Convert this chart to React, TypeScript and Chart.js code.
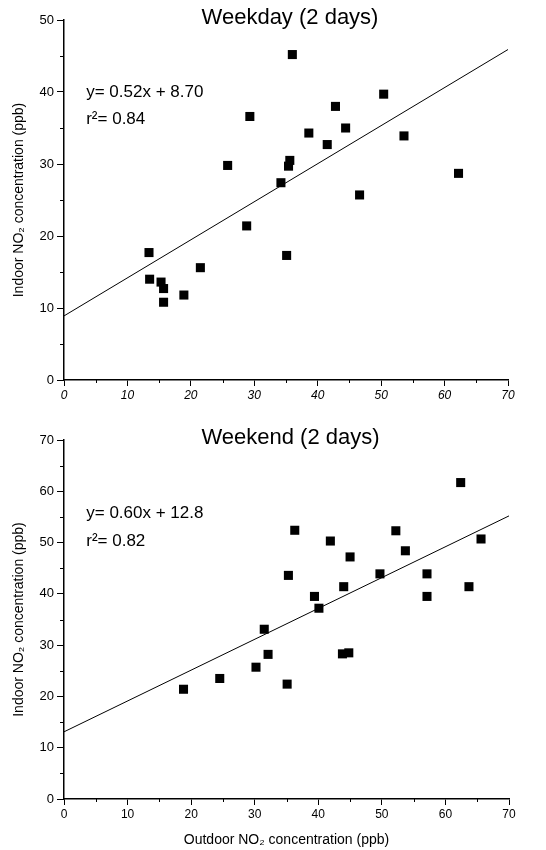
import React, { useEffect, useRef } from "react";
import { Chart, registerables } from "chart.js";

Chart.register(...registerables);

// ---------- Data ----------
const weekdayOutdoor = [36.0, 29.3, 25.8, 50.4, 42.8, 38.6, 44.4, 41.5, 53.6, 35.6, 35.4, 34.2, 46.6, 62.2, 28.8, 13.4, 35.1, 21.5, 13.5, 15.3, 15.7, 18.9, 15.7];
const weekdayIndoor = [45.2, 36.6, 29.8, 39.7, 38.0, 34.3, 35.0, 32.7, 33.9, 30.5, 29.7, 27.4, 25.7, 28.7, 21.4, 17.7, 17.3, 15.6, 14.0, 13.6, 12.7, 11.8, 10.8];
const weekdayFitX = [0, 70];
const weekdayFitY = [8.9, 45.9];
const weekdayEquation = ["y= 0.52x + 8.70", "r\u00B2= 0.84"];

const weekendOutdoor = [62.4, 36.3, 52.2, 41.9, 65.6, 53.7, 45.0, 35.3, 49.7, 57.1, 44.0, 63.7, 39.4, 57.1, 40.1, 31.5, 32.1, 43.8, 44.8, 30.2, 24.5, 35.1, 18.8];
const weekendIndoor = [61.7, 52.4, 52.3, 50.3, 50.7, 48.4, 47.2, 43.6, 43.9, 43.9, 41.4, 41.4, 39.5, 39.5, 37.2, 33.1, 28.2, 28.3, 28.5, 25.7, 23.5, 22.4, 21.4];
const weekendFitX = [0, 70];
const weekendFitY = [13.1, 55.2];
const weekendEquation = ["y= 0.60x + 12.8", "r\u00B2= 0.82"];

const xTickValues = [0, 10, 20, 30, 40, 50, 60, 70];
const weekdayYTicks = [0, 10, 20, 30, 40, 50];
const weekendYTicks = [0, 10, 20, 30, 40, 50, 60, 70];

const FONT = "'Liberation Sans', Arial, sans-serif";

type PanelCfg = {
  title: string;
  xs: number[];
  ys: number[];
  fitX: number[];
  fitY: number[];
  equation: string[];
  eqX: number;
  eqY: number[];
  yMax: number;
  yTicks: number[];
  height: number;
  padTop: number;
  padRight: number;
  xAxisHeight: number;
  italicX: boolean;
  showXTitle: boolean;
};

const minorTicksPlugin = {
  id: "minorTicks",
  afterDraw(chart: any) {
    const ctx = chart.ctx;
    const area = chart.chartArea;
    ctx.save();
    ctx.strokeStyle = "#000";
    ctx.lineWidth = 1;
    const xs = chart.scales.x;
    const ys = chart.scales.y;
    xs.ticks.forEach((t: any) => {
      if (t.value % 10 !== 0) {
        const px = Math.round(xs.getPixelForValue(t.value)) + 0.5;
        ctx.beginPath();
        ctx.moveTo(px, area.bottom);
        ctx.lineTo(px, area.bottom + 3);
        ctx.stroke();
      }
    });
    ys.ticks.forEach((t: any) => {
      if (t.value % 10 !== 0) {
        const py = Math.round(ys.getPixelForValue(t.value)) + 0.5;
        ctx.beginPath();
        ctx.moveTo(area.left - 4, py);
        ctx.lineTo(area.left, py);
        ctx.stroke();
      }
    });
    ctx.restore();
  },
};

const textPlugin = {
  id: "panelText",
  afterDraw(chart: any) {
    const cfg = chart.options.plugins.panelText;
    if (!cfg) return;
    const ctx = chart.ctx;
    const area = chart.chartArea;
    ctx.save();
    ctx.fillStyle = "#000";
    ctx.textBaseline = "middle";
    ctx.textAlign = "center";
    ctx.font = `22px ${FONT}`;
    ctx.fillText(cfg.title, (area.left + area.right) / 2 + 4, area.top - 2);
    ctx.textAlign = "left";
    ctx.font = `17px ${FONT}`;
    const xs = chart.scales.x;
    const ys = chart.scales.y;
    cfg.equation.forEach((line: string, i: number) => {
      ctx.fillText(line, xs.getPixelForValue(cfg.eqX), ys.getPixelForValue(cfg.eqY[i]));
    });
    ctx.restore();
  },
};

function Panel({ cfg }: { cfg: PanelCfg }) {
  const ref = useRef<HTMLCanvasElement | null>(null);
  useEffect(() => {
    if (!ref.current) return;
    const points = cfg.xs.map((x, i) => ({ x, y: cfg.ys[i] }));
    const fit = cfg.fitX.map((x, i) => ({ x, y: cfg.fitY[i] }));
    const chart = new Chart(ref.current, {
      type: "scatter",
      data: {
        datasets: [
          {
            data: fit,
            showLine: true,
            borderColor: "#000",
            borderWidth: 1,
            pointRadius: 0,
            fill: false,
          } as any,
          {
            data: points,
            pointStyle: "rect",
            pointRadius: 6.4,
            pointBackgroundColor: "#000",
            pointBorderWidth: 0,
            borderColor: "#000",
          } as any,
        ],
      },
      options: {
        animation: false,
        responsive: false,
        events: [],
        layout: { padding: { top: cfg.padTop, right: cfg.padRight, left: 0, bottom: 0 } },
        plugins: {
          legend: { display: false },
          title: { display: false },
          tooltip: { enabled: false },
          panelText: { title: cfg.title, equation: cfg.equation, eqX: cfg.eqX, eqY: cfg.eqY },
        } as any,
        scales: {
          x: {
            type: "linear",
            min: 0,
            max: 70,
            afterFit: (s: any) => {
              s.height = cfg.xAxisHeight;
            },
            afterBuildTicks: (s: any) => {
              const vals: number[] = [];
              xTickValues.forEach((v, i) => {
                vals.push(v);
                if (i < xTickValues.length - 1) vals.push(v + 5);
              });
              s.ticks = vals.map((v) => ({ value: v }));
            },
            border: { display: true, color: "#000", width: 1.5 },
            grid: {
              drawOnChartArea: false,
              drawTicks: true,
              tickLength: 6,
              tickWidth: 1,
              tickColor: (c: any) => (c.tick && c.tick.value % 10 === 0 ? "#000" : "rgba(0,0,0,0)"),
            },
            ticks: {
              autoSkip: false,
              maxRotation: 0,
              padding: 2,
              color: "#000",
              font: { family: FONT, size: 12, style: cfg.italicX ? "italic" : "normal" },
              callback: (v: any) => (Number(v) % 10 === 0 ? String(v) : ""),
            },
            title: {
              display: cfg.showXTitle,
              text: "Outdoor NO\u2082 concentration (ppb)",
              color: "#000",
              font: { family: FONT, size: 14 },
              padding: { top: 0, bottom: 1 },
            },
          },
          y: {
            type: "linear",
            min: 0,
            max: cfg.yMax,
            afterFit: (s: any) => {
              s.width = 64;
            },
            afterBuildTicks: (s: any) => {
              const vals: number[] = [];
              cfg.yTicks.forEach((v, i) => {
                vals.push(v);
                if (i < cfg.yTicks.length - 1) vals.push(v + 5);
              });
              s.ticks = vals.map((v) => ({ value: v }));
            },
            border: { display: true, color: "#000", width: 1.5 },
            grid: {
              drawOnChartArea: false,
              drawTicks: true,
              tickLength: 7,
              tickWidth: 1,
              tickColor: (c: any) => (c.tick && c.tick.value % 10 === 0 ? "#000" : "rgba(0,0,0,0)"),
            },
            ticks: {
              autoSkip: false,
              padding: 3,
              color: "#000",
              font: { family: FONT, size: 13 },
              callback: (v: any) => (Number(v) % 10 === 0 ? String(v) : ""),
            },
            title: {
              display: true,
              text: "Indoor NO\u2082 concentration (ppb)",
              color: "#000",
              font: { family: FONT, size: 14 },
              padding: { top: 11, bottom: 0 },
            },
          },
        },
      },
      plugins: [minorTicksPlugin, textPlugin],
    });
    return () => chart.destroy();
  }, [cfg]);
  return (
    <canvas
      ref={ref}
      width={546}
      height={cfg.height}
      style={{ display: "block", width: 546, height: cfg.height }}
    />
  );
}

const weekdayCfg: PanelCfg = {
  title: "Weekday (2 days)",
  xs: weekdayOutdoor,
  ys: weekdayIndoor,
  fitX: weekdayFitX,
  fitY: weekdayFitY,
  equation: weekdayEquation,
  eqX: 3.5,
  eqY: [40.0, 36.2],
  yMax: 50,
  yTicks: weekdayYTicks,
  height: 415,
  padTop: 20,
  padRight: 38,
  xAxisHeight: 35,
  italicX: true,
  showXTitle: false,
};

const weekendCfg: PanelCfg = {
  title: "Weekend (2 days)",
  xs: weekendOutdoor,
  ys: weekendIndoor,
  fitX: weekendFitX,
  fitY: weekendFitY,
  equation: weekendEquation,
  eqX: 3.5,
  eqY: [55.8, 50.3],
  yMax: 70,
  yTicks: weekendYTicks,
  height: 435,
  padTop: 25,
  padRight: 37,
  xAxisHeight: 51,
  italicX: false,
  showXTitle: true,
};

export default function App() {
  return (
    <div
      style={{
        position: "fixed",
        top: 0,
        left: 0,
        width: 546,
        height: 850,
        background: "#fff",
      }}
    >
      <Panel cfg={weekdayCfg} />
      <Panel cfg={weekendCfg} />
    </div>
  );
}
